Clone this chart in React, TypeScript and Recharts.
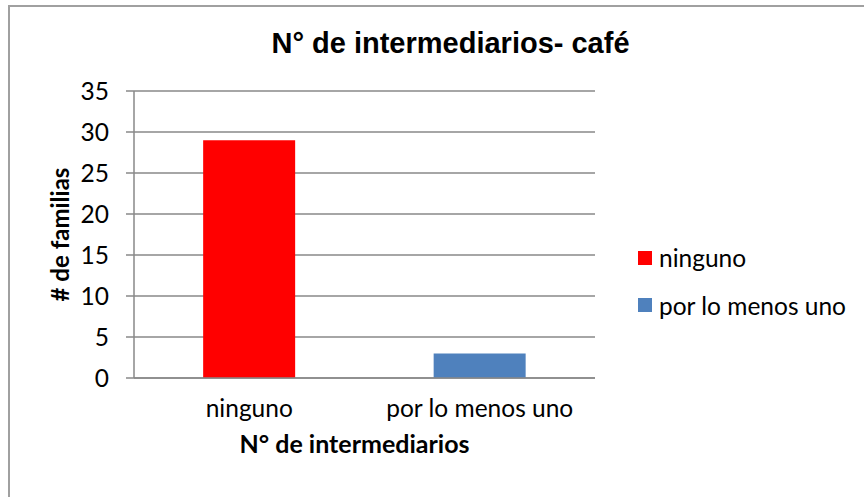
import React from 'react';
import { BarChart, Bar, XAxis, YAxis, CartesianGrid, Legend, Label } from 'recharts';

const categories = ['ninguno', 'por lo menos uno'];
const ningunoValues = [29, null];
const porLoMenosUnoValues = [null, 3];
const yTicks = [0, 5, 10, 15, 20, 25, 30, 35];
const seriesNames = ['ninguno', 'por lo menos uno'];
const seriesColors = ['#FF0000', '#4F81BD'];
const chartTitle = 'N° de intermediarios- café';
const xAxisTitle = 'N° de intermediarios';
const yAxisTitle = '# de familias';

const data = categories.map((c, i) => ({
  category: c,
  ninguno: ningunoValues[i],
  porLoMenosUno: porLoMenosUnoValues[i],
}));

const FONT = 'Lato, "Open Sans", sans-serif';
const GRID = '#898989';
const TICK_SIZE = 24.5;

const renderLegend = (props: any) => {
  const payload = props.payload || [];
  return (
    <div style={{ fontFamily: FONT, fontSize: TICK_SIZE, color: '#000', textAlign: 'left' }}>
      {payload.map((p: any) => (
        <div key={p.value} style={{ display: 'flex', alignItems: 'center', height: 47.5, whiteSpace: 'nowrap' }}>
          <span style={{ display: 'inline-block', width: 14, height: 14, background: p.color, marginRight: 7 }} />
          <span>{p.value}</span>
        </div>
      ))}
    </div>
  );
};

export default function App() {
  return (
    <div style={{ position: 'absolute', left: 0, top: 0, width: 864, height: 497, overflow: 'hidden', background: '#fff' }}>
      <div style={{ position: 'absolute', left: 8, top: 5, width: 1000, height: 1000, borderTop: '2px solid #a0a0a0', borderLeft: '2px solid #a0a0a0' }} />
      <div style={{ position: 'absolute', left: 0, top: 0 }}>
        <BarChart
          width={864}
          height={497}
          data={data}
          margin={{ top: 91, right: 269, bottom: 60, left: 0 }}
          barCategoryGap="30%"
        >
          <CartesianGrid horizontal vertical={false} stroke={GRID} strokeWidth={1.5} />
          <XAxis
            dataKey="category"
            height={59}
            interval={0}
            axisLine={{ stroke: GRID, strokeWidth: 1.5 }}
            tickLine={false}
            tickSize={0}
            tickMargin={22}
            tick={{ fontFamily: FONT, fontSize: TICK_SIZE, fill: '#000' }}
          >
            <Label
              content={(p: any) => {
                const vb = p.viewBox || {};
                return (
                  <text x={vb.x + vb.width / 2 - 10} y={453} textAnchor="middle" fontFamily={FONT} fontWeight="bold" fontSize={25} fill="#000">
                    {xAxisTitle}
                  </text>
                );
              }}
            />
          </XAxis>
          <YAxis
            width={134}
            domain={[0, 35]}
            ticks={yTicks}
            interval={0}
            axisLine={{ stroke: GRID, strokeWidth: 1.5 }}
            tickLine={{ stroke: GRID, strokeWidth: 1.5 }}
            tickSize={8}
            tickMargin={17}
            tick={{ fontFamily: FONT, fontSize: TICK_SIZE, fill: '#000' }}
          >
            <Label
              content={(p: any) => {
                const vb = p.viewBox || {};
                const cy = vb.y + vb.height / 2;
                return (
                  <text x={69} y={cy} transform={`rotate(-90, 69, ${cy})`} textAnchor="middle" fontFamily={FONT} fontWeight="bold" fontSize={24} fill="#000">
                    {yAxisTitle}
                  </text>
                );
              }}
            />
          </YAxis>
          <Legend
            layout="horizontal"
            align="center"
            verticalAlign="middle"
            content={renderLegend}
            wrapperStyle={{ left: 638, top: 234, width: 226 }}
          />
          <Bar dataKey="ninguno" name={seriesNames[0]} stackId="s" fill={seriesColors[0]} isAnimationActive={false} />
          <Bar dataKey="porLoMenosUno" name={seriesNames[1]} stackId="s" fill={seriesColors[1]} isAnimationActive={false} />
        </BarChart>
      </div>
      <svg style={{ position: 'absolute', left: 0, top: 0 }} width={864} height={80}>
        <text x={450.5} y={53} textAnchor="middle" fontFamily='"Liberation Sans", Arial, sans-serif' fontWeight="bold" fontSize={29} fill="#000">
          {chartTitle}
        </text>
      </svg>
    </div>
  );
}
